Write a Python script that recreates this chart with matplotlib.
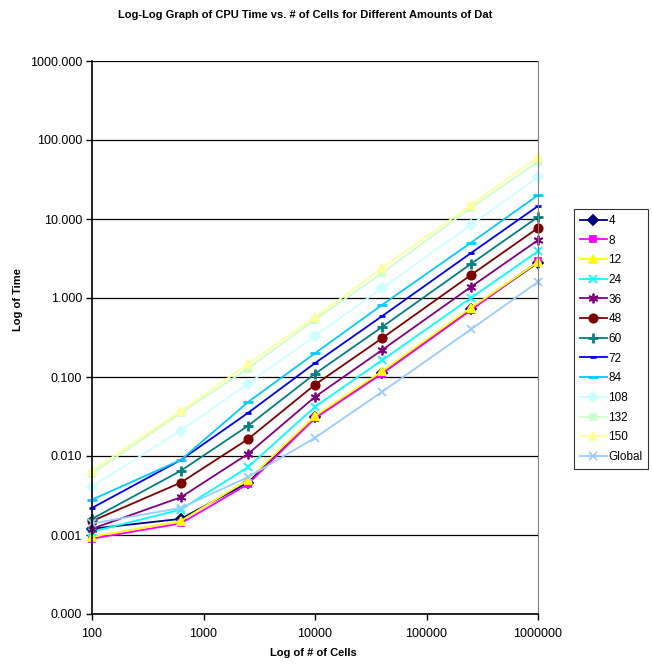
import numpy as np
import matplotlib
matplotlib.use('Agg')
import matplotlib.pyplot as plt
from matplotlib.ticker import FixedLocator, FuncFormatter, NullLocator

plt.rcParams['font.family'] = ['Liberation Sans', 'DejaVu Sans']

cells = [100, 625, 2500, 10000, 40000, 250000, 1000000]

t4 = [0.0012, 0.0016, 0.0046, 0.031, 0.113, 0.72, 2.8]
t8 = [0.0009, 0.0014, 0.0044, 0.030, 0.11, 0.70, 2.9]
t12 = [0.00095, 0.0015, 0.005, 0.032, 0.118, 0.75, 2.85]
t24 = [0.0011, 0.0021, 0.0072, 0.042, 0.163, 1.0, 3.9]
t36 = [0.0012, 0.003, 0.0106, 0.056, 0.22, 1.38, 5.4]
t48 = [0.0015, 0.0046, 0.0163, 0.08, 0.31, 1.95, 7.7]
t60 = [0.0016, 0.0065, 0.024, 0.11, 0.43, 2.7, 10.6]
t72 = [0.0022, 0.0089, 0.035, 0.15, 0.59, 3.7, 14.6]
t84 = [0.0028, 0.0089, 0.048, 0.20, 0.82, 5.0, 20]
t108 = [0.0041, 0.021, 0.082, 0.33, 1.34, 8.4, 34]
t132 = [0.006, 0.035, 0.128, 0.53, 2.07, 13.8, 53]
t150 = [0.0065, 0.037, 0.145, 0.57, 2.4, 15, 61]
tglobal = [0.0014, 0.0022, 0.0054, 0.017, 0.065, 0.40, 1.6]

names = ['4', '8', '12', '24', '36', '48', '60', '72', '84', '108', '132', '150', 'Global']
series = [t4, t8, t12, t24, t36, t48, t60, t72, t84, t108, t132, t150, tglobal]
colors = ['#000080', '#FF00FF', '#FFFF00', '#00FFFF', '#800080', '#800000', '#008080',
          '#0000FF', '#00CCFF', '#CCFFFF', '#CCFFCC', '#FFFF99', '#99CCFF']
markers = ['D', 's', '^', 'x', (6, 2, 0), 'o', '+', '_', '_', 'D', 's', '^', 'x']
msizes = [5, 5, 6, 6, 7, 6, 7, 5, 7, 5, 5, 6, 6]

fig = plt.figure(figsize=(6.52, 6.66), dpi=100)
ax = fig.add_axes([92/652, 1-614/666, (538-92)/652, (614-61)/666])

for name, ys, c, m, ms in zip(names, series, colors, markers, msizes):
    mew = 2.0 if m in ('_', '+') else 1.3
    ax.plot(cells, ys, color=c, marker=m, markersize=ms, markeredgewidth=mew,
            markerfacecolor=c, markeredgecolor=c, linewidth=1.3, label=name, clip_on=False)

ax.set_xscale('log')
ax.set_yscale('log')
ax.set_xlim(100, 1000000)
ax.set_ylim(0.0001, 1000)

ax.xaxis.set_major_locator(FixedLocator([100, 1000, 10000, 100000, 1000000]))
ax.xaxis.set_minor_locator(NullLocator())
ax.xaxis.set_major_formatter(FuncFormatter(lambda v, p: '%d' % round(v)))
ax.yaxis.set_major_locator(FixedLocator([1e-4, 1e-3, 1e-2, 1e-1, 1, 10, 100, 1000]))
ax.yaxis.set_minor_locator(NullLocator())
ax.yaxis.set_major_formatter(FuncFormatter(lambda v, p: '%.3f' % v))
ax.tick_params(direction='out', length=4, width=1, labelsize=9)
ax.tick_params(axis='x', pad=6)
ax.tick_params(axis='y', pad=3)

ax.grid(axis='y', color='black', linewidth=0.9)
ax.set_axisbelow(True)
ax.spines['top'].set_visible(False)
ax.spines['right'].set_color('#808080')
ax.spines['left'].set_linewidth(1.2)
ax.spines['bottom'].set_linewidth(1.2)

fig.text(313/652, 1-653/666, 'Log of # of Cells', ha='center', va='center',
         fontsize=8, fontweight='bold')
fig.text(18/652, 1-300/666, 'Log of Time', ha='center', va='center', rotation=90,
         fontsize=8, fontweight='bold')
fig.text(305/652, 1-15/666, 'Log-Log Graph of CPU Time vs. # of Cells for Different Amounts of Dat',
         ha='center', va='center', fontsize=8, fontweight='bold')

leg = ax.legend(loc='upper left', bbox_to_anchor=(574/652, 1-209/666), bbox_transform=fig.transFigure,
                fontsize=8.5, frameon=True, fancybox=False, edgecolor='black', borderaxespad=0,
                handlelength=2.3, labelspacing=0.65, borderpad=0.5, handletextpad=0.1)
leg.get_frame().set_linewidth(0.8)

fig.savefig('out.png', dpi=100)
